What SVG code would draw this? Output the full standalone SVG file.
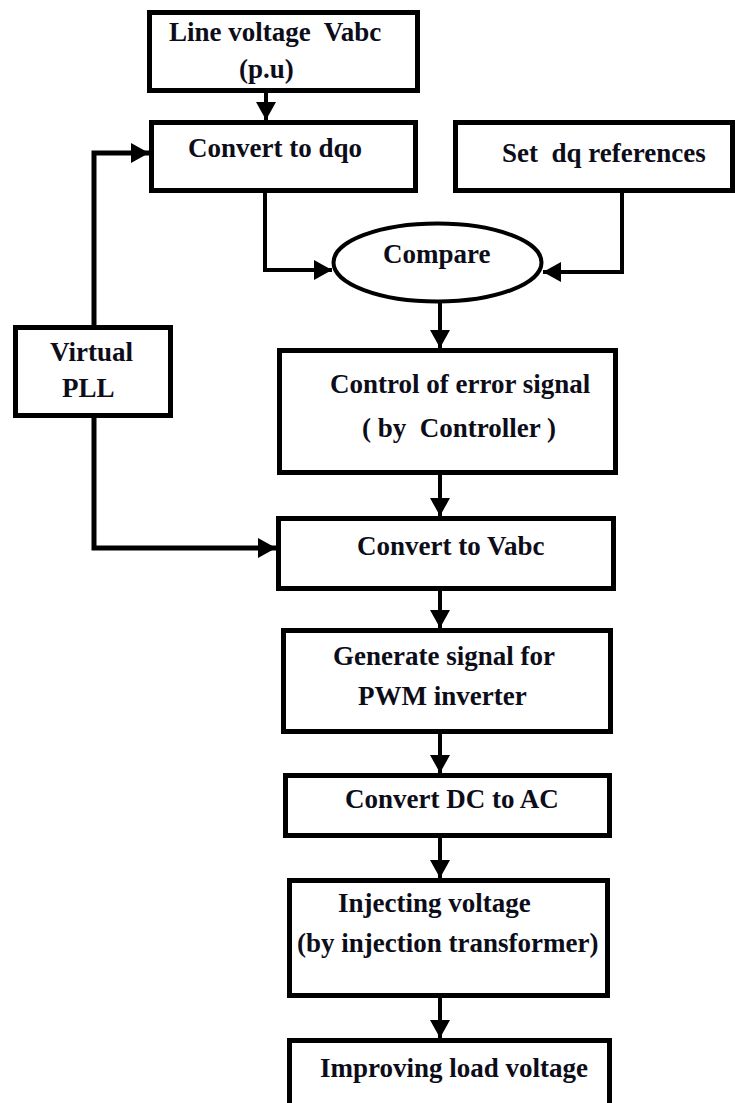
<svg xmlns="http://www.w3.org/2000/svg" width="735" height="1103" viewBox="0 0 735 1103">
  <style>
    .box { fill: #ffffff; stroke: #000000; stroke-width: 5; }
    .oval { fill: #ffffff; stroke: #000000; stroke-width: 4; }
    .wire { fill: none; stroke: #000000; stroke-width: 4; }
    .wire-thick { fill: none; stroke: #000000; stroke-width: 5; }
    .label { font-family: "Liberation Serif", "Times New Roman", serif; font-weight: bold; font-size: 27px; fill: #0d0d1a; white-space: pre; }
  </style>
  <defs>
    <marker id="arrow" viewBox="0 0 18 20" refX="18" refY="10" markerWidth="18" markerHeight="20" markerUnits="userSpaceOnUse" orient="auto">
      <path d="M0 0 L18 10 L0 20 Z" fill="#000000"/>
    </marker>
  </defs>
  <rect x="0" y="0" width="735" height="1103" fill="#ffffff"/>

  <!-- connectors -->
  <g id="connectors">
    <path class="wire" d="M266 93 V120" marker-end="url(#arrow)"/>
    <path class="wire" d="M265 193 V270 H332" marker-end="url(#arrow)"/>
    <path class="wire" d="M622 193 V272 H543" marker-end="url(#arrow)"/>
    <path class="wire" d="M440 301 V348" marker-end="url(#arrow)"/>
    <path class="wire-thick" d="M94 325 V153 H149" marker-end="url(#arrow)"/>
    <path class="wire-thick" d="M94 418 V548 H276" marker-end="url(#arrow)"/>
    <path class="wire" d="M440 475 V516" marker-end="url(#arrow)"/>
    <path class="wire" d="M440 591 V628" marker-end="url(#arrow)"/>
    <path class="wire" d="M440 734 V773" marker-end="url(#arrow)"/>
    <path class="wire" d="M440 838 V878" marker-end="url(#arrow)"/>
    <path class="wire" d="M440 998 V1038" marker-end="url(#arrow)"/>
  </g>

  <g id="line-voltage">
    <rect class="box" x="149.5" y="12.5" width="268" height="78"/>
    <text class="label" x="169" y="41" xml:space="preserve">Line voltage  Vabc</text>
    <text class="label" x="239" y="78">(p.u)</text>
  </g>

  <g id="convert-dqo">
    <rect class="box" x="151.5" y="122.5" width="264" height="68"/>
    <text class="label" x="188" y="157">Convert to dqo</text>
  </g>

  <g id="dq-references">
    <rect class="box" x="455.5" y="122.5" width="277" height="68"/>
    <text class="label" x="502" y="162" xml:space="preserve">Set  dq references</text>
  </g>

  <g id="compare">
    <ellipse class="oval" cx="437.5" cy="262.5" rx="104" ry="39"/>
    <text class="label" x="383" y="263">Compare</text>
  </g>

  <g id="virtual-pll">
    <rect class="box" x="15.5" y="327.5" width="155" height="88"/>
    <text class="label" x="50" y="361">Virtual</text>
    <text class="label" x="62" y="397">PLL</text>
  </g>

  <g id="controller">
    <rect class="box" x="279.5" y="350.5" width="336" height="122"/>
    <text class="label" x="330" y="393">Control of error signal</text>
    <text class="label" x="362" y="437" xml:space="preserve">( by  Controller )</text>
  </g>

  <g id="convert-vabc">
    <rect class="box" x="278.5" y="518.5" width="335" height="70"/>
    <text class="label" x="357" y="555">Convert to Vabc</text>
  </g>

  <g id="pwm-signal">
    <rect class="box" x="283.5" y="630.5" width="327" height="101"/>
    <text class="label" x="333" y="665">Generate signal for</text>
    <text class="label" x="358" y="705">PWM inverter</text>
  </g>

  <g id="dc-to-ac">
    <rect class="box" x="285.5" y="775.5" width="324" height="60"/>
    <text class="label" x="345" y="808">Convert DC to AC</text>
  </g>

  <g id="injection">
    <rect class="box" x="289.5" y="880.5" width="318" height="115"/>
    <text class="label" x="338" y="912">Injecting voltage</text>
    <text class="label" x="297" y="952">(by injection transformer)</text>
  </g>

  <g id="load-voltage">
    <rect class="box" x="289.5" y="1040.5" width="320" height="80"/>
    <text class="label" x="320" y="1077">Improving load voltage</text>
  </g>
</svg>
